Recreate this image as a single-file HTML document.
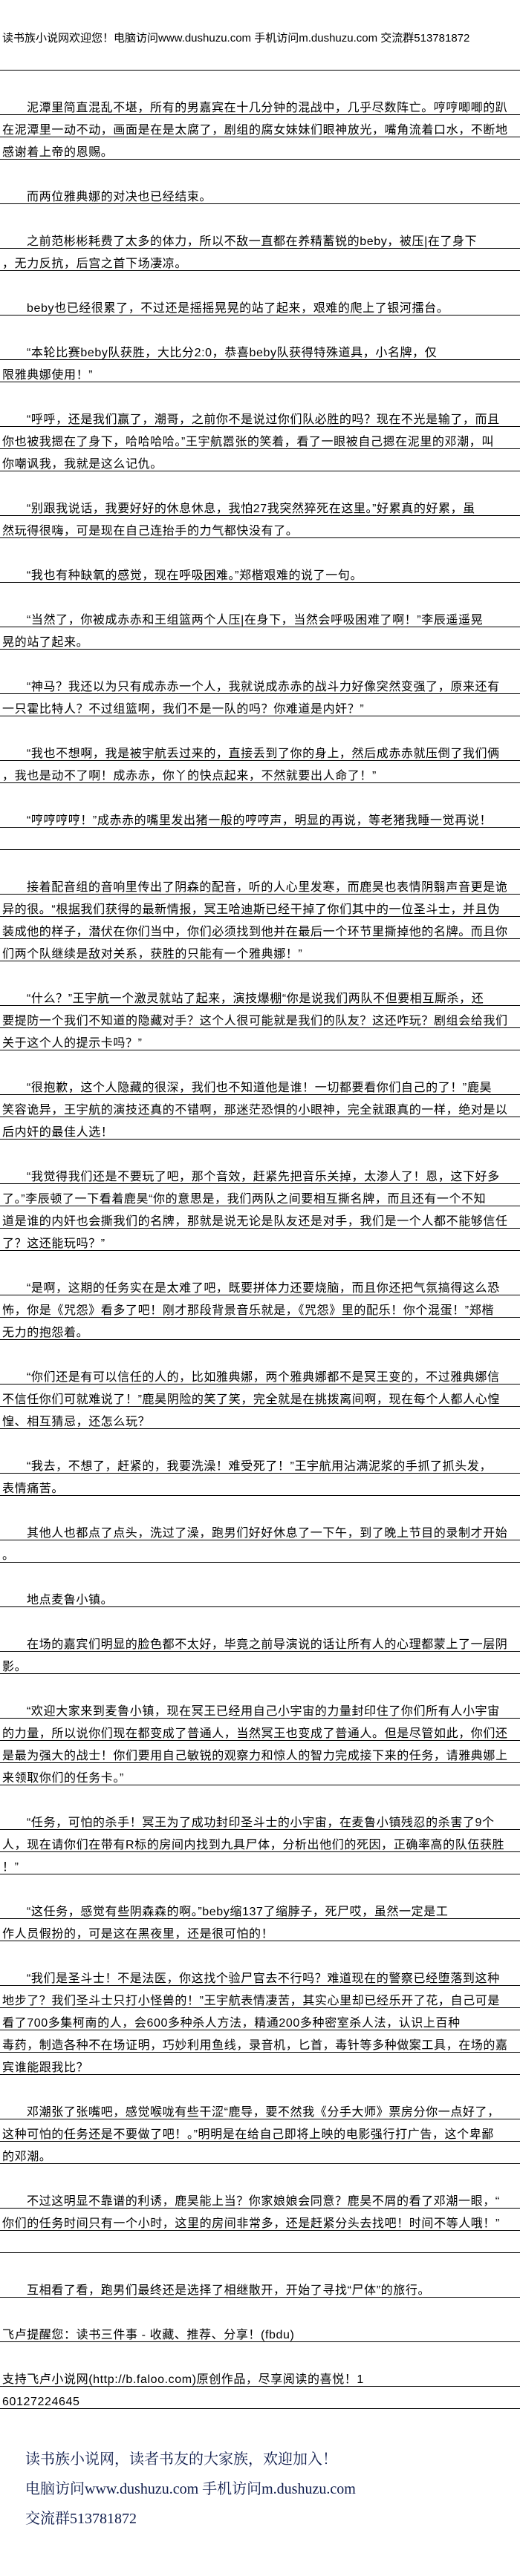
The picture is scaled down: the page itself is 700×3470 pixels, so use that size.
<!DOCTYPE html>
<html><head><meta charset="utf-8">
<style>
html,body{margin:0;padding:0;background:#fff;}
body{width:700px;height:3470px;position:relative;overflow:hidden;font-family:"Liberation Sans","Noto Sans CJK SC",sans-serif;color:#000;}
.h{position:absolute;left:3px;top:42px;font-size:15px;line-height:20px;white-space:nowrap;}
.r{position:absolute;left:0;width:700px;height:0;border-top:1px solid #000;}
.l{position:absolute;left:0;width:700px;height:30px;box-sizing:border-box;border-bottom:1px solid #000;padding:12px 0 0 3px;font-size:16px;line-height:18px;letter-spacing:0.6px;white-space:nowrap;}
.i{padding-left:36px;}
.f{position:absolute;left:34px;font-family:"Liberation Serif","Noto Serif CJK SC",serif;font-size:20px;line-height:24px;color:#0d1a4a;white-space:nowrap;}
</style></head><body>
<div class="h">读书族小说网欢迎您！电脑访问www.dushuzu.com 手机访问m.dushuzu.com 交流群513781872</div>
<div class="r" style="top:94px"></div>

<div class="l i" style="top:125px">泥潭里简直混乱不堪，所有的男嘉宾在十几分钟的混战中，几乎尽数阵亡。哼哼唧唧的趴</div>
<div class="l" style="top:155px">在泥潭里一动不动，画面是在是太腐了，剧组的腐女妹妹们眼神放光，嘴角流着口水，不断地</div>
<div class="l" style="top:185px">感谢着上帝的恩赐。</div>
<div class="l i" style="top:245px">而两位雅典娜的对决也已经结束。</div>
<div class="l i" style="top:305px">之前范彬彬耗费了太多的体力，所以不敌一直都在养精蓄锐的beby，被压|在了身下</div>
<div class="l" style="top:335px">，无力反抗，后宫之首下场凄凉。</div>
<div class="l i" style="top:395px">beby也已经很累了，不过还是摇摇晃晃的站了起来，艰难的爬上了银河擂台。</div>
<div class="l i" style="top:455px">“本轮比赛beby队获胜，大比分2:0，恭喜beby队获得特殊道具，小名牌，仅</div>
<div class="l" style="top:485px">限雅典娜使用！”</div>
<div class="l i" style="top:545px">“呼呼，还是我们赢了，潮哥，之前你不是说过你们队必胜的吗？现在不光是输了，而且</div>
<div class="l" style="top:575px">你也被我摁在了身下，哈哈哈哈。”王宇航嚣张的笑着，看了一眼被自己摁在泥里的邓潮，叫</div>
<div class="l" style="top:605px">你嘲讽我，我就是这么记仇。</div>
<div class="l i" style="top:665px">“别跟我说话，我要好好的休息休息，我怕27我突然猝死在这里。”好累真的好累，虽</div>
<div class="l" style="top:695px">然玩得很嗨，可是现在自己连抬手的力气都快没有了。</div>
<div class="l i" style="top:755px">“我也有种缺氧的感觉，现在呼吸困难。”郑楷艰难的说了一句。</div>
<div class="l i" style="top:815px">“当然了，你被成赤赤和王组篮两个人压|在身下，当然会呼吸困难了啊！”李辰遥遥晃</div>
<div class="l" style="top:845px">晃的站了起来。</div>
<div class="l i" style="top:905px">“神马？我还以为只有成赤赤一个人，我就说成赤赤的战斗力好像突然变强了，原来还有</div>
<div class="l" style="top:935px">一只霍比特人？不过组篮啊，我们不是一队的吗？你难道是内奸？”</div>
<div class="l i" style="top:995px">“我也不想啊，我是被宇航丢过来的，直接丢到了你的身上，然后成赤赤就压倒了我们俩</div>
<div class="l" style="top:1025px">，我也是动不了啊！成赤赤，你丫的快点起来，不然就要出人命了！”</div>
<div class="l i" style="top:1085px">“哼哼哼哼！”成赤赤的嘴里发出猪一般的哼哼声，明显的再说，等老猪我睡一觉再说！</div>
<div class="l" style="top:1115px"></div>
<div class="l i" style="top:1175px">接着配音组的音响里传出了阴森的配音，听的人心里发寒，而鹿昊也表情阴翳声音更是诡</div>
<div class="l" style="top:1205px">异的很。“根据我们获得的最新情报，冥王哈迪斯已经干掉了你们其中的一位圣斗士，并且伪</div>
<div class="l" style="top:1235px">装成他的样子，潜伏在你们当中，你们必须找到他并在最后一个环节里撕掉他的名牌。而且你</div>
<div class="l" style="top:1265px">们两个队继续是敌对关系，获胜的只能有一个雅典娜！”</div>
<div class="l i" style="top:1325px">“什么？”王宇航一个激灵就站了起来，演技爆棚“你是说我们两队不但要相互厮杀，还</div>
<div class="l" style="top:1355px">要提防一个我们不知道的隐藏对手？这个人很可能就是我们的队友？这还咋玩？剧组会给我们</div>
<div class="l" style="top:1385px">关于这个人的提示卡吗？”</div>
<div class="l i" style="top:1445px">“很抱歉，这个人隐藏的很深，我们也不知道他是谁！一切都要看你们自己的了！”鹿昊</div>
<div class="l" style="top:1475px">笑容诡异，王宇航的演技还真的不错啊，那迷茫恐惧的小眼神，完全就跟真的一样，绝对是以</div>
<div class="l" style="top:1505px">后内奸的最佳人选！</div>
<div class="l i" style="top:1565px">“我觉得我们还是不要玩了吧，那个音效，赶紧先把音乐关掉，太渗人了！恩，这下好多</div>
<div class="l" style="top:1595px">了。”李辰顿了一下看着鹿昊“你的意思是，我们两队之间要相互撕名牌，而且还有一个不知</div>
<div class="l" style="top:1625px">道是谁的内奸也会撕我们的名牌，那就是说无论是队友还是对手，我们是一个人都不能够信任</div>
<div class="l" style="top:1655px">了？这还能玩吗？”</div>
<div class="l i" style="top:1715px">“是啊，这期的任务实在是太难了吧，既要拼体力还要烧脑，而且你还把气氛搞得这么恐</div>
<div class="l" style="top:1745px">怖，你是《咒怨》看多了吧！刚才那段背景音乐就是，《咒怨》里的配乐！你个混蛋！”郑楷</div>
<div class="l" style="top:1775px">无力的抱怨着。</div>
<div class="l i" style="top:1835px">“你们还是有可以信任的人的，比如雅典娜，两个雅典娜都不是冥王变的，不过雅典娜信</div>
<div class="l" style="top:1865px">不信任你们可就难说了！”鹿昊阴险的笑了笑，完全就是在挑拨离间啊，现在每个人都人心惶</div>
<div class="l" style="top:1895px">惶、相互猜忌，还怎么玩？</div>
<div class="l i" style="top:1955px">“我去，不想了，赶紧的，我要洗澡！难受死了！”王宇航用沾满泥浆的手抓了抓头发，</div>
<div class="l" style="top:1985px">表情痛苦。</div>
<div class="l i" style="top:2045px">其他人也都点了点头，洗过了澡，跑男们好好休息了一下午，到了晚上节目的录制才开始</div>
<div class="l" style="top:2075px">。</div>
<div class="l i" style="top:2135px">地点麦鲁小镇。</div>
<div class="l i" style="top:2195px">在场的嘉宾们明显的脸色都不太好，毕竟之前导演说的话让所有人的心理都蒙上了一层阴</div>
<div class="l" style="top:2225px">影。</div>
<div class="l i" style="top:2285px">“欢迎大家来到麦鲁小镇，现在冥王已经用自己小宇宙的力量封印住了你们所有人小宇宙</div>
<div class="l" style="top:2315px">的力量，所以说你们现在都变成了普通人，当然冥王也变成了普通人。但是尽管如此，你们还</div>
<div class="l" style="top:2345px">是最为强大的战士！你们要用自己敏锐的观察力和惊人的智力完成接下来的任务，请雅典娜上</div>
<div class="l" style="top:2375px">来领取你们的任务卡。”</div>
<div class="l i" style="top:2435px">“任务，可怕的杀手！冥王为了成功封印圣斗士的小宇宙，在麦鲁小镇残忍的杀害了9个</div>
<div class="l" style="top:2465px">人，现在请你们在带有R标的房间内找到九具尸体，分析出他们的死因，正确率高的队伍获胜</div>
<div class="l" style="top:2495px">！”</div>
<div class="l i" style="top:2555px">“这任务，感觉有些阴森森的啊。”beby缩137了缩脖子，死尸哎，虽然一定是工</div>
<div class="l" style="top:2585px">作人员假扮的，可是这在黑夜里，还是很可怕的！</div>
<div class="l i" style="top:2645px">“我们是圣斗士！不是法医，你这找个验尸官去不行吗？难道现在的警察已经堕落到这种</div>
<div class="l" style="top:2675px">地步了？我们圣斗士只打小怪兽的！”王宇航表情凄苦，其实心里却已经乐开了花，自己可是</div>
<div class="l" style="top:2705px">看了700多集柯南的人，会600多种杀人方法，精通200多种密室杀人法，认识上百种</div>
<div class="l" style="top:2735px">毒药，制造各种不在场证明，巧妙利用鱼线，录音机，匕首，毒针等多种做案工具，在场的嘉</div>
<div class="l" style="top:2765px">宾谁能跟我比？</div>
<div class="l i" style="top:2825px">邓潮张了张嘴吧，感觉喉咙有些干涩“鹿导，要不然我《分手大师》票房分你一点好了，</div>
<div class="l" style="top:2855px">这种可怕的任务还是不要做了吧！。”明明是在给自己即将上映的电影强行打广告，这个卑鄙</div>
<div class="l" style="top:2885px">的邓潮。</div>
<div class="l i" style="top:2945px">不过这明显不靠谱的利诱，鹿昊能上当？你家娘娘会同意？鹿昊不屑的看了邓潮一眼，“</div>
<div class="l" style="top:2975px">你们的任务时间只有一个小时，这里的房间非常多，还是赶紧分头去找吧！时间不等人哦！”</div>
<div class="l" style="top:3005px"></div>
<div class="l i" style="top:3065px">互相看了看，跑男们最终还是选择了相继散开，开始了寻找“尸体”的旅行。</div>
<div class="l" style="top:3125px">飞卢提醒您：读书三件事 - 收藏、推荐、分享！(fbdu)</div>
<div class="l" style="top:3185px">支持飞卢小说网(http://b.faloo.com)原创作品，尽享阅读的喜悦！1</div>
<div class="l" style="top:3215px">60127224645</div>

<div class="f" style="top:3301px">读书族小说网，读者书友的大家族，欢迎加入！</div>
<div class="f" style="top:3341px">电脑访问www.dushuzu.com 手机访问m.dushuzu.com</div>
<div class="f" style="top:3381px">交流群513781872</div>
</body></html>
